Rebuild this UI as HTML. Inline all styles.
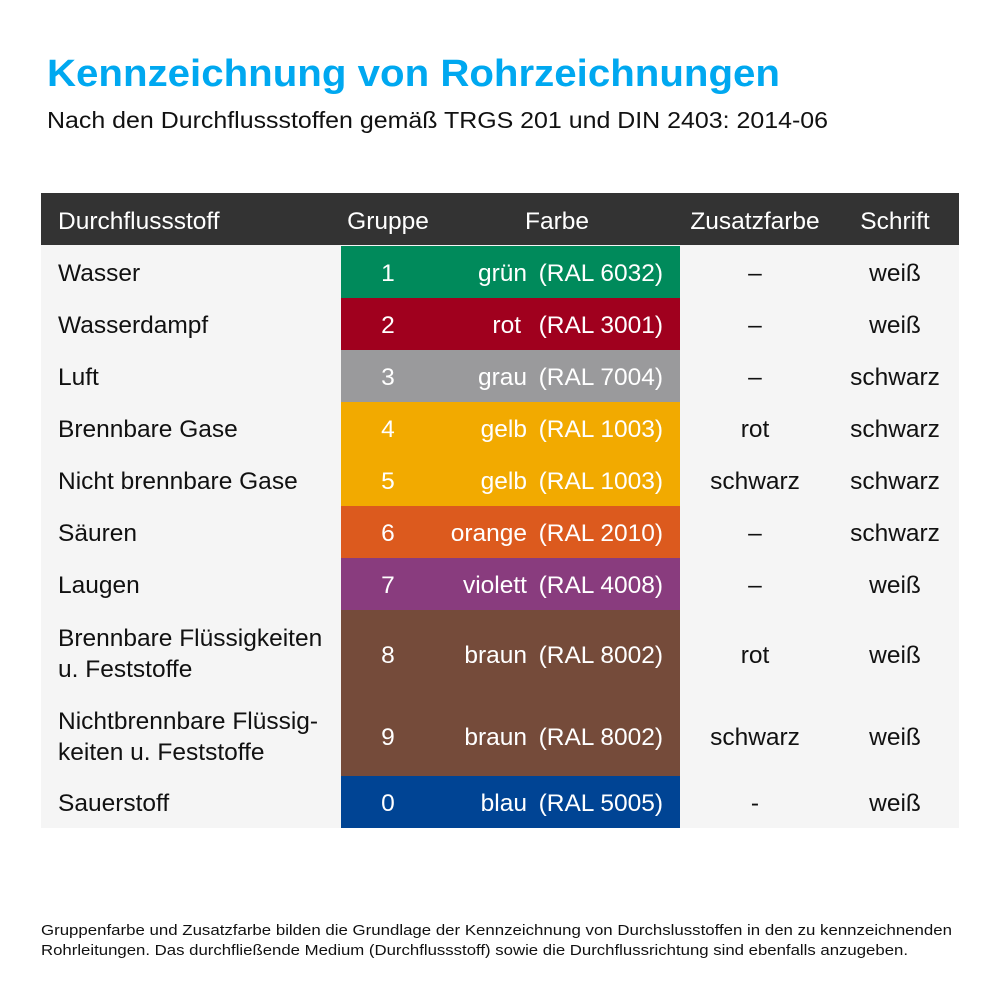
<!DOCTYPE html>
<html><head><meta charset="utf-8"><style>body{margin:0;background:#fff}svg{display:block}</style></head>
<body>
<svg width="1000" height="1000" xmlns="http://www.w3.org/2000/svg" font-family="Liberation Sans, sans-serif">
<rect width="1000" height="1000" fill="#fff"/>
<text x="47" y="86" font-size="38" font-weight="bold" fill="#00A8F0" textLength="733" lengthAdjust="spacingAndGlyphs">Kennzeichnung von Rohrzeichnungen</text>
<text x="47" y="128" font-size="23" fill="#111" textLength="781" lengthAdjust="spacingAndGlyphs">Nach den Durchflussstoffen gemäß TRGS 201 und DIN 2403: 2014-06</text>
<rect x="41" y="193" width="918" height="52" fill="#333"/>
<rect x="41" y="245" width="918" height="583" fill="#f5f5f5"/>
<g font-size="24.5" fill="#fff">
<text x="58" y="229">Durchflussstoff</text>
<text x="388" y="229" text-anchor="middle">Gruppe</text>
<text x="557" y="229" text-anchor="middle">Farbe</text>
<text x="755" y="229" text-anchor="middle">Zusatzfarbe</text>
<text x="895" y="229" text-anchor="middle">Schrift</text>
</g>
<g>
<rect x="341" y="246" width="339" height="52" fill="#008A5B"/>
<rect x="341" y="298" width="339" height="52" fill="#A0001E"/>
<rect x="341" y="350" width="339" height="52" fill="#9A9A9C"/>
<rect x="341" y="402" width="339" height="52" fill="#F2AA00"/>
<rect x="341" y="454" width="339" height="52" fill="#F2AA00"/>
<rect x="341" y="506" width="339" height="52" fill="#DC5A1E"/>
<rect x="341" y="558" width="339" height="52" fill="#893C7E"/>
<rect x="341" y="610" width="339" height="166" fill="#754B3A"/>
<rect x="341" y="776" width="339" height="52" fill="#004494"/>
</g>
<g font-size="24.5" fill="#111">
<text x="58" y="281">Wasser</text>
<text x="58" y="333">Wasserdampf</text>
<text x="58" y="385">Luft</text>
<text x="58" y="437">Brennbare Gase</text>
<text x="58" y="489">Nicht brennbare Gase</text>
<text x="58" y="541">Säuren</text>
<text x="58" y="593">Laugen</text>
<text x="58" y="646">Brennbare Flüssigkeiten</text>
<text x="58" y="677">u. Feststoffe</text>
<text x="58" y="729">Nichtbrennbare Flüssig-</text>
<text x="58" y="760">keiten u. Feststoffe</text>
<text x="58" y="811">Sauerstoff</text>
</g>
<g font-size="24.5" fill="#fff">
<g text-anchor="middle">
<text x="388" y="281">1</text><text x="388" y="333">2</text><text x="388" y="385">3</text><text x="388" y="437">4</text><text x="388" y="489">5</text><text x="388" y="541">6</text><text x="388" y="593">7</text><text x="388" y="663">8</text><text x="388" y="745">9</text><text x="388" y="811">0</text>
</g>
<g text-anchor="end">
<text x="527" y="281">grün</text><text x="521" y="333">rot</text><text x="527" y="385">grau</text><text x="527" y="437">gelb</text><text x="527" y="489">gelb</text><text x="527" y="541">orange</text><text x="527" y="593">violett</text><text x="527" y="663">braun</text><text x="527" y="745">braun</text><text x="527" y="811">blau</text>
</g>
<g text-anchor="end">
<text x="663" y="281">(RAL 6032)</text><text x="663" y="333">(RAL 3001)</text><text x="663" y="385">(RAL 7004)</text><text x="663" y="437">(RAL 1003)</text><text x="663" y="489">(RAL 1003)</text><text x="663" y="541">(RAL 2010)</text><text x="663" y="593">(RAL 4008)</text><text x="663" y="663">(RAL 8002)</text><text x="663" y="745">(RAL 8002)</text><text x="663" y="811">(RAL 5005)</text>
</g>
</g>
<g font-size="24.5" fill="#111" text-anchor="middle">
<text x="755" y="281">–</text><text x="755" y="333">–</text><text x="755" y="385">–</text><text x="755" y="437">rot</text><text x="755" y="489">schwarz</text><text x="755" y="541">–</text><text x="755" y="593">–</text><text x="755" y="663">rot</text><text x="755" y="745">schwarz</text><text x="755" y="811">-</text>
<text x="895" y="281">weiß</text><text x="895" y="333">weiß</text><text x="895" y="385">schwarz</text><text x="895" y="437">schwarz</text><text x="895" y="489">schwarz</text><text x="895" y="541">schwarz</text><text x="895" y="593">weiß</text><text x="895" y="663">weiß</text><text x="895" y="745">weiß</text><text x="895" y="811">weiß</text>
</g>
<g font-size="15" fill="#111">
<text x="41" y="935" textLength="911" lengthAdjust="spacingAndGlyphs">Gruppenfarbe und Zusatzfarbe bilden die Grundlage der Kennzeichnung von Durchslusstoffen in den zu kennzeichnenden</text>
<text x="41" y="955" textLength="867" lengthAdjust="spacingAndGlyphs">Rohrleitungen. Das durchfließende Medium (Durchflussstoff) sowie die Durchflussrichtung sind ebenfalls anzugeben.</text>
</g>
</svg>
</body></html>
